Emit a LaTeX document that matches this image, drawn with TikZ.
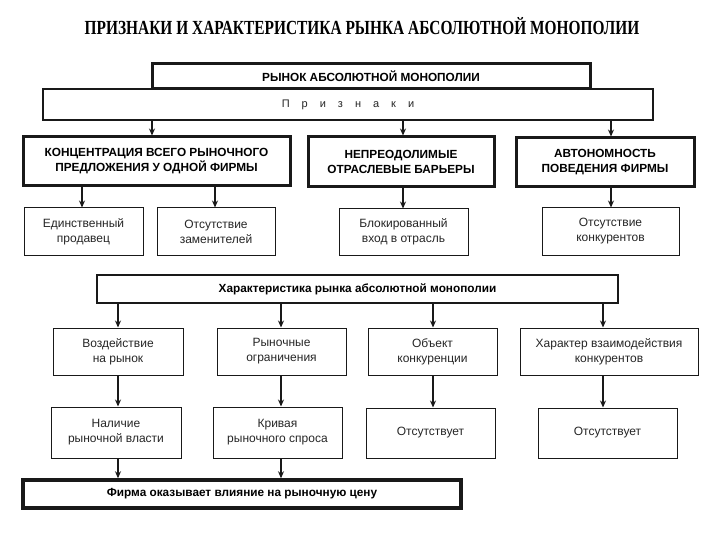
\documentclass[tikz,border=0pt]{standalone}
\usepackage{fontspec}
\setmainfont{Liberation Sans}
\newfontfamily\titlefont{Liberation Serif}
\usetikzlibrary{arrows.meta}
\begin{document}
\begin{tikzpicture}[x=1pt,y=-1pt,
  heavybox/.style={draw=black!90, line width=3pt, fill=white, inner sep=0pt, align=center,
    font=\fontsize{11.8}{15}\selectfont\bfseries},
  midbox/.style={draw=black!90, line width=1.6pt, fill=white, inner sep=0pt, align=center,
    font=\fontsize{11.8}{15}\selectfont\bfseries},
  lightbox/.style={draw=black!90, line width=1pt, fill=white, inner sep=0pt, align=center,
    font=\fontsize{12}{15}\selectfont, text=black!85},
  arr/.style={draw=black!90, line width=1.1pt, -{Stealth[length=7pt,width=6pt]}},
  arrb/.style={arr, line width=1.8pt}]
\useasboundingbox (0,0) rectangle (720,540);
\fill[white] (0,0) rectangle (720,540);

% title
\node (T) at (362,26) {\titlefont\fontsize{20}{20}\selectfont\bfseries\scalebox{0.77}[1]{ПРИЗНАКИ И ХАРАКТЕРИСТИКА РЫНКА АБСОЛЮТНОЙ МОНОПОЛИИ}};

% top
\node[lightbox, font=\fontsize{11}{15}\selectfont, line width=1.2pt, minimum width=610pt, minimum height=31pt] (P) at (348,104.5)
  {П\hskip 12pt р\hskip 12pt и\hskip 12pt з\hskip 12pt н\hskip 12pt а\hskip 12pt к\hskip 12pt и};
\node[heavybox, minimum width=438pt, minimum height=25pt] (A) at (371,76.5) {РЫНОК АБСОЛЮТНОЙ МОНОПОЛИИ};

% level B
\node[heavybox, minimum width=267pt, minimum height=49pt] (B1) at (156.5,161.5)
  {КОНЦЕНТРАЦИЯ ВСЕГО РЫНОЧНОГО\\ПРЕДЛОЖЕНИЯ У ОДНОЙ ФИРМЫ};
\node[heavybox, minimum width=186pt, minimum height=50pt] (B2) at (401,162)
  {НЕПРЕОДОЛИМЫЕ\\ОТРАСЛЕВЫЕ БАРЬЕРЫ};
\node[heavybox, minimum width=178pt, minimum height=49pt] (B3) at (605,162.5)
  {АВТОНОМНОСТЬ\\ПОВЕДЕНИЯ ФИРМЫ};

% level C
\node[lightbox, minimum width=119pt, minimum height=47pt] (C1) at (83.5,231.5) {Единственный\\продавец};
\node[lightbox, minimum width=118pt, minimum height=47pt] (C2) at (216,231.5) {Отсутствие\\заменителей};
\node[lightbox, minimum width=129pt, minimum height=46pt] (C3) at (403.5,232) {Блокированный\\вход в отрасль};
\node[lightbox, minimum width=137pt, minimum height=47pt] (C4) at (610.5,231.5) {Отсутствие\\конкурентов};

% characteristic
\node[midbox, minimum width=521pt, minimum height=28pt] (D) at (357.5,289) {Характеристика рынка абсолютной монополии};

\node[lightbox, minimum width=130pt, minimum height=47pt] (E1) at (118,351.5) {Воздействие\\на рынок};
\node[lightbox, minimum width=129pt, minimum height=47pt] (E2) at (281.5,351.5) {Рыночные\\ограничения};
\node[lightbox, minimum width=129pt, minimum height=47pt] (E3) at (432.5,351.5) {Объект\\конкуренции};
\node[lightbox, minimum width=178pt, minimum height=47pt] (E4) at (609,351.5) {Характер взаимодействия\\конкурентов};

\node[lightbox, minimum width=130pt, minimum height=51pt] (F1) at (116,432.5) {Наличие\\рыночной власти};
\node[lightbox, minimum width=129pt, minimum height=51pt] (F2) at (277.5,432.5) {Кривая\\рыночного спроса};
\node[lightbox, minimum width=129pt, minimum height=50pt] (F3) at (430.5,433) {Отсутствует};
\node[lightbox, minimum width=139pt, minimum height=50pt] (F4) at (607.5,433) {Отсутствует};

\node[heavybox, line width=3.5pt, minimum width=438pt, minimum height=28pt] (G) at (242,494) {Фирма оказывает влияние на рыночную цену};

% arrow x positions
\coordinate (x1) at (152,0);
\coordinate (x2) at (403,0);
\coordinate (x3) at (611,0);
\coordinate (x4) at (82,0);
\coordinate (x5) at (215,0);
\coordinate (y1) at (118,0);
\coordinate (y2) at (281,0);
\coordinate (y3) at (433,0);
\coordinate (y4) at (603,0);

\draw[arr] (P.south -| x1) -- (B1.north -| x1);
\draw[arr] (P.south -| x2) -- (B2.north -| x2);
\draw[arr] (P.south -| x3) -- (B3.north -| x3);
\draw[arr] (B1.south -| x4) -- (C1.north -| x4);
\draw[arr] (B1.south -| x5) -- (C2.north -| x5);
\draw[arr] (B2.south -| x2) -- (C3.north -| x2);
\draw[arr] (B3.south -| x3) -- (C4.north -| x3);

\draw[arr, line width=1.5pt] (D.south -| y1) -- (E1.north -| y1);
\draw[arr] (D.south -| y2) -- (E2.north -| y2);
\draw[arr] (D.south -| y3) -- (E3.north -| y3);
\draw[arr] (D.south -| y4) -- (E4.north -| y4);
\draw[arrb] (E1.south -| y1) -- (F1.north -| y1);
\draw[arrb] (E2.south -| y2) -- (F2.north -| y2);
\draw[arr] (E3.south -| y3) -- (F3.north -| y3);
\draw[arr] (E4.south -| y4) -- (F4.north -| y4);
\draw[arr] (F1.south -| y1) -- (G.north -| y1);
\draw[arr] (F2.south -| y2) -- (G.north -| y2);
\end{tikzpicture}
\end{document}
